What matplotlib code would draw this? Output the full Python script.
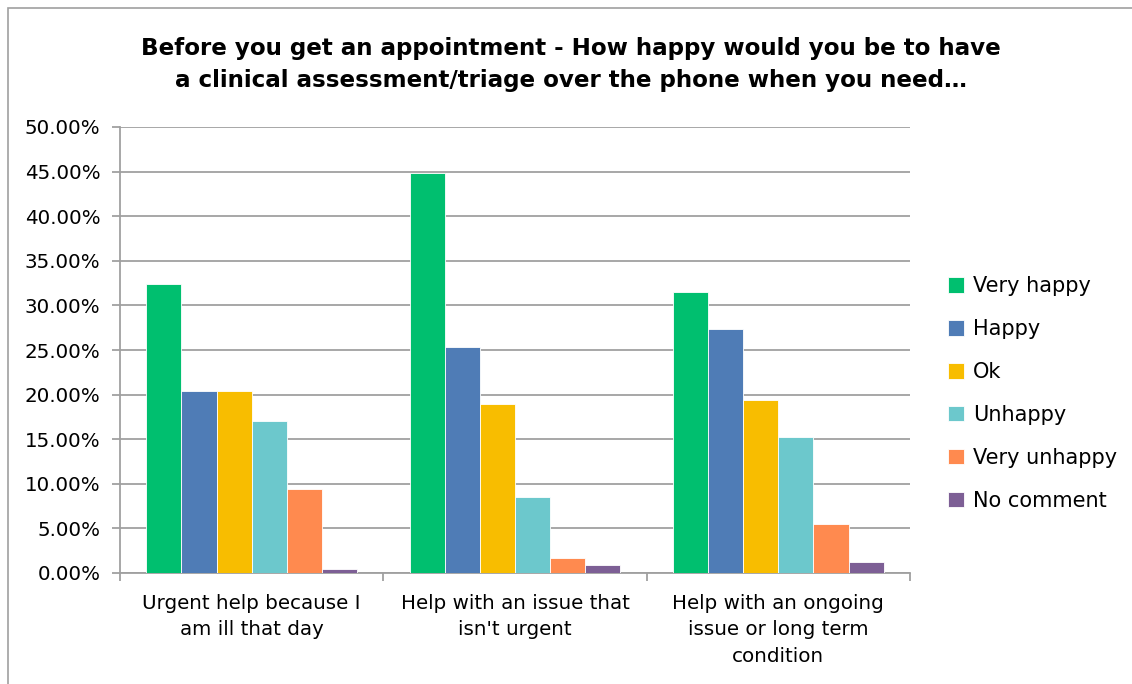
import numpy as np
import matplotlib.pyplot as plt
from matplotlib.patches import Rectangle
from matplotlib.ticker import FuncFormatter

# data
categories = ["Urgent help because I\nam ill that day",
              "Help with an issue that\nisn't urgent",
              "Help with an ongoing\nissue or long term\ncondition"]
series_names = ["Very happy", "Happy", "Ok", "Unhappy", "Very unhappy", "No comment"]
very_happy = [32.4, 44.8, 31.5]
happy = [20.4, 25.3, 27.3]
ok = [20.4, 19.0, 19.4]
unhappy = [17.0, 8.5, 15.2]
very_unhappy = [9.4, 1.7, 5.5]
no_comment = [0.45, 0.86, 1.27]
colors = ["#00BF6F", "#4F7CB6", "#F8BD00", "#6CC8CC", "#FF8A4F", "#7D5F95"]

series = [very_happy, happy, ok, unhappy, very_unhappy, no_comment]

plt.rcParams['font.family'] = ['DejaVu Sans']

W, H = 1132, 684
fig = plt.figure(figsize=(W / 100, H / 100), dpi=100)
ax = fig.add_axes([120 / W, 1 - 573 / H, 790 / W, 446 / H])

# chart border
fig.patches.append(Rectangle((8 / W, -0.01), 1.2, 1 - 8 / H + 0.01, transform=fig.transFigure,
                             fill=False, edgecolor="#A0A0A0", linewidth=1.2))

x = np.arange(len(categories))
bw = 0.8 / len(series)
for i, (vals, name, c) in enumerate(zip(series, series_names, colors)):
    ax.bar(x - 0.4 + bw * (i + 0.5), vals, bw, color=c, label=name,
           edgecolor="white", linewidth=0.6, zorder=3)

ax.set_xlim(-0.5, len(categories) - 0.5)
ax.set_ylim(0, 50)
ax.set_yticks(np.arange(0, 50.1, 5))
ax.yaxis.set_major_formatter(FuncFormatter(lambda v, p: "%.2f%%" % v))
ax.grid(axis="y", color="#A0A0A0", linewidth=1.3, zorder=0)
ax.set_xticks(x)
ax.set_xticklabels(categories, fontsize=14.3, linespacing=1.5)
ax.set_xticks(np.arange(-0.5, len(categories)), minor=True)
ax.tick_params(axis="x", which="major", length=0, pad=15)
ax.tick_params(axis="x", which="minor", length=6, color="#A0A0A0", width=1.3)
ax.tick_params(axis="y", labelsize=14.3, length=6, color="#A0A0A0", width=1.3, pad=8)

for s in ["top", "right"]:
    ax.spines[s].set_visible(False)
for s in ["left", "bottom"]:
    ax.spines[s].set_color("#A0A0A0")
    ax.spines[s].set_linewidth(1.3)

fig.text(571 / W, 1 - 64 / H,
         "Before you get an appointment - How happy would you be to have\n"
         "a clinical assessment/triage over the phone when you need\u2026",
         ha="center", va="center", fontsize=16.6, fontweight="bold", linespacing=1.5)

leg = ax.legend(loc="upper left", bbox_to_anchor=(940 / W, 1 - 268 / H),
                bbox_transform=fig.transFigure, frameon=False, fontsize=15,
                handlelength=0.75, handleheight=0.75, handletextpad=0.45,
                labelspacing=1.1, borderaxespad=0)

fig.savefig("out.png", dpi=100)
